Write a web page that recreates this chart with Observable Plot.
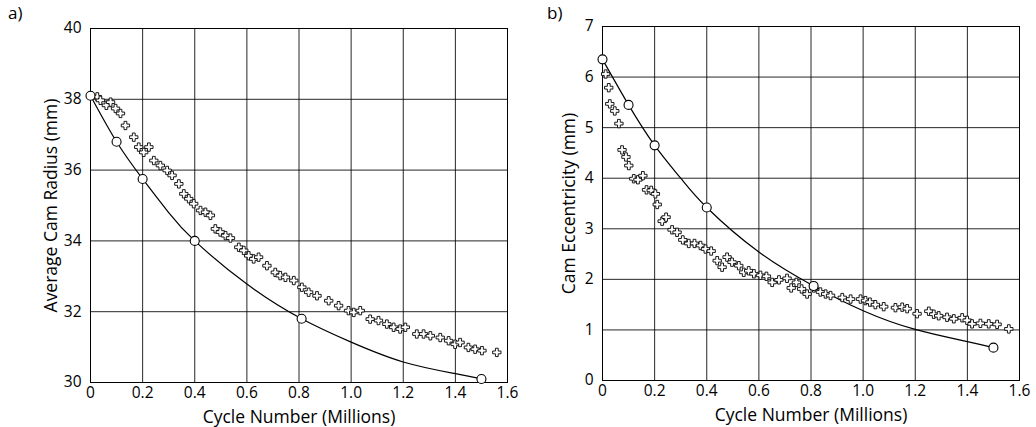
<!DOCTYPE html>
<html><head><meta charset="utf-8">
<script src="https://cdn.jsdelivr.net/npm/d3@7"></script>
<script src="https://cdn.jsdelivr.net/npm/@observablehq/plot@0.6"></script>
<style>
body{margin:0;background:#fff;font-family:"Open Sans",sans-serif;}
#wrap{position:relative;width:1036px;height:427px;display:flex;}
.panel{position:relative;width:518px;height:427px;}
.tag{position:absolute;font-size:17px;top:1px;color:#000;}
</style></head><body>
<div id="wrap">
  <div class="panel" id="pa"><div class="tag" style="left:8px">a)</div></div>
  <div class="panel" id="pb"><div class="tag" style="left:29px">b)</div></div>
</div>
<script>
// Model points (open circles)
const modelX = [0, 0.1, 0.2, 0.4, 0.81, 1.5];
const radiusModel = [38.1, 36.8, 35.75, 34.0, 31.8, 30.1];
const eccModel = [6.35, 5.45, 4.65, 3.42, 1.87, 0.65];
// Fitted curve
const fitX = [0, 0.1, 0.2, 0.3, 0.4, 0.6, 0.81, 1.0, 1.2, 1.4, 1.5];
const radiusFit = [38.1, 36.8, 35.75, 34.8, 34.0, 32.78, 31.8, 31.14, 30.58, 30.25, 30.1];
const eccFit = [6.35, 5.45, 4.65, 4.0, 3.42, 2.54, 1.87, 1.38, 1.01, 0.77, 0.65];
// Measured points (crosses), panel a
const radiusMeasX = [0.026,0.038,0.061,0.077,0.096,0.115,0.134,0.166,0.185,0.204,0.224,0.243,0.268,0.294,0.313,0.339,0.358,0.377,0.396,0.422,0.441,0.46,0.479,0.498,0.518,0.537,0.569,0.588,0.607,0.626,0.645,0.677,0.709,0.728,0.748,0.78,0.811,0.837,0.869,0.914,0.952,0.99,1.01,1.035,1.073,1.105,1.137,1.163,1.188,1.208,1.252,1.278,1.304,1.342,1.374,1.399,1.418,1.45,1.476,1.502,1.559];
const radiusMeasY = [38.07,37.97,37.83,37.92,37.74,37.6,37.26,36.93,36.65,36.5,36.65,36.27,36.13,35.99,35.85,35.61,35.33,35.19,35.05,34.86,34.81,34.72,34.34,34.25,34.15,34.08,33.82,33.73,33.58,33.49,33.54,33.3,33.11,33.02,32.97,32.88,32.69,32.55,32.45,32.31,32.17,32.03,31.98,32.03,31.79,31.75,31.65,31.56,31.51,31.56,31.37,31.37,31.32,31.27,31.18,31.08,31.13,30.99,30.94,30.9,30.85];
// Measured points (crosses), panel b
const eccMeasX = [0.012,0.024,0.028,0.047,0.063,0.075,0.09,0.101,0.12,0.136,0.155,0.169,0.187,0.203,0.21,0.229,0.244,0.267,0.286,0.308,0.331,0.353,0.376,0.395,0.417,0.44,0.459,0.478,0.497,0.523,0.542,0.561,0.581,0.606,0.629,0.651,0.677,0.708,0.724,0.744,0.764,0.785,0.811,0.836,0.856,0.875,0.92,0.952,0.99,1.009,1.026,1.047,1.079,1.124,1.15,1.169,1.207,1.252,1.271,1.29,1.322,1.348,1.38,1.399,1.418,1.45,1.482,1.514,1.559];
const eccMeasY = [6.06,5.79,5.47,5.33,5.08,4.56,4.42,4.25,3.99,3.97,4.05,3.77,3.76,3.69,3.48,3.15,3.23,2.98,2.93,2.78,2.71,2.71,2.67,2.6,2.56,2.37,2.24,2.44,2.34,2.27,2.14,2.17,2.11,2.08,2.06,1.94,1.99,2.02,1.83,1.94,1.81,1.71,1.83,1.75,1.71,1.68,1.64,1.61,1.61,1.58,1.55,1.5,1.46,1.44,1.45,1.42,1.32,1.37,1.31,1.28,1.25,1.22,1.24,1.19,1.12,1.13,1.12,1.11,1.02];

const xTicks = [0, 0.2, 0.4, 0.6, 0.8, 1.0, 1.2, 1.4, 1.6];
const radiusTicks = [30, 32, 34, 36, 38, 40];
const eccTicks = [0, 1, 2, 3, 4, 5, 6, 7];
const xLabel = "Cycle Number (Millions)";

const fmtX = d => d === 0 ? "0" : d.toFixed(1);
const fmtY = d => String(d);

function panel({modelY, fitY, measX, measY, yDomain, yTicks, yLabel, ml, mr, mt, mb}) {
  const model = modelX.map((x, i) => ({x, y: modelY[i]}));
  const fit = fitX.map((x, i) => ({x, y: fitY[i]}));
  const meas = measX.map((x, i) => ({x, y: measY[i]}));
  return Plot.plot({
    width: 518, height: 427,
    marginLeft: ml, marginRight: mr, marginTop: mt, marginBottom: mb,
    style: {fontFamily: "'Open Sans', sans-serif", fontSize: "16px", color: "#000", background: "#fff", overflow: "visible"},
    x: {domain: [0, 1.6]},
    y: {domain: yDomain},
    marks: [
      Plot.gridX(xTicks, {stroke: "#000", strokeOpacity: 0.85, strokeWidth: 1}),
      Plot.gridY(yTicks, {stroke: "#000", strokeOpacity: 0.85, strokeWidth: 1}),
      Plot.frame({stroke: "#000", strokeWidth: 1}),
      Plot.axisX(xTicks, {tickSize: 0, tickPadding: 4, tickFormat: fmtX, fontSize: 15.5, label: null}),
      Plot.axisX([], {tickSize: 0, fontSize: 17.5, label: xLabel, labelAnchor: "center", labelArrow: "none", labelOffset: 40}),
      Plot.axisY(yTicks, {tickSize: 0, tickPadding: 9, tickFormat: fmtY, fontSize: 15.5, label: null}),
      Plot.axisY([], {tickSize: 0, fontSize: 17.5, label: yLabel, labelAnchor: "center", labelArrow: "none", labelOffset: ml - 44}),
      Plot.line(fit, {x: "x", y: "y", curve: "natural", stroke: "#000", strokeWidth: 1.2}),
      Plot.dot(meas, {x: "x", y: "y", symbol: "cross", r: 3.5, fill: "#fff", stroke: "#000", strokeWidth: 0.9}),
      Plot.dot(model, {x: "x", y: "y", symbol: "circle", r: 4.5, fill: "#fff", stroke: "#000", strokeWidth: 1.1})
    ]
  });
}

const a = panel({modelY: radiusModel, fitY: radiusFit, measX: radiusMeasX, measY: radiusMeasY, yDomain: [30, 40], yTicks: radiusTicks,
  yLabel: "Average Cam Radius (mm)", ml: 90, mr: 11, mt: 28, mb: 45});
const b = panel({modelY: eccModel, fitY: eccFit, measX: eccMeasX, measY: eccMeasY, yDomain: [0, 7], yTicks: eccTicks,
  yLabel: "Cam Eccentricity (mm)", ml: 84, mr: 17, mt: 26, mb: 47});
document.getElementById("pa").appendChild(a);
document.getElementById("pb").appendChild(b);
</script>
</body></html>
